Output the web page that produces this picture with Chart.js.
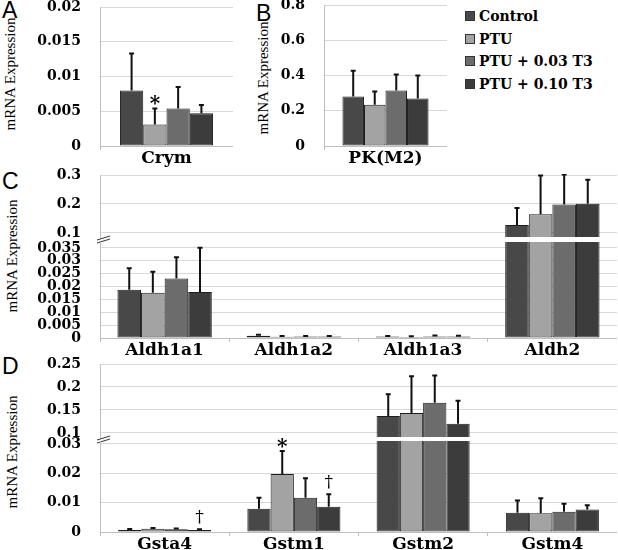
<!DOCTYPE html>
<html>
<head>
<meta charset="utf-8">
<script src="https://cdn.jsdelivr.net/npm/chart.js@4.4.1/dist/chart.umd.min.js"></script>
<style>
  body { margin: 0; width: 618px; height: 550px; overflow: hidden; background: #fff; position: relative; }
  canvas { position: absolute; }
  .letter { position: absolute; font-family: "Liberation Sans", Arial, sans-serif; font-size: 23px; line-height: 1; color: #000; }
  .ytitle { position: absolute; font-family: "Liberation Serif", "DejaVu Serif", Tinos, "Times New Roman", Times, serif; font-size: 15px; line-height: 1; white-space: nowrap; transform: translate(-50%, -50%) rotate(-90deg); }
  .leg { position: absolute; left: 465px; font-family: "DejaVu Serif", "Liberation Serif", Times, serif; font-weight: bold; font-size: 14px; line-height: 16px; white-space: nowrap; }
  .leg span { display: inline-block; width: 10px; height: 10px; box-sizing: border-box; border: 1px solid #333; margin-right: 4px; vertical-align: 0px; }
</style>
</head>
<body>
<div class="letter" style="left:2px;top:-1px">A</div>
<div class="letter" style="left:256px;top:2px">B</div>
<div class="letter" style="left:2px;top:170px">C</div>
<div class="letter" style="left:2px;top:355px">D</div>
<div class="ytitle" style="left:10px;top:74px">mRNA Expression</div>
<div class="ytitle" style="left:263px;top:78px">mRNA Expression</div>
<div class="ytitle" style="left:12px;top:256px">mRNA Expression</div>
<div class="ytitle" style="left:12px;top:452px">mRNA Expression</div>
<div id="legend"></div>

<canvas id="chartA"></canvas>
<canvas id="chartB"></canvas>
<canvas id="chartCTop"></canvas>
<canvas id="chartCBottom"></canvas>
<canvas id="chartDTop"></canvas>
<canvas id="chartDBottom"></canvas>

<script>
const seriesNames = ["Control", "PTU", "PTU + 0.03 T3", "PTU + 0.10 T3"];
const seriesColors = ["#484848", "#a3a3a3", "#6c6c6c", "#3c3c3c"];
const serif = "'DejaVu Serif', 'Liberation Serif', Times, serif";

// A - one value per series
const crymCats = ["Crym"];
const crymMean = [0.0080, 0.0031, 0.0054, 0.0047];
const crymErr = [0.0053, 0.0023, 0.0031, 0.0012];
const crymMarks = ["", "*", "", ""];
const crymTicks = [0, 0.005, 0.01, 0.015, 0.02];

// B
const pkCats = ["PK(M2)"];
const pkMean = [0.281, 0.234, 0.315, 0.27];
const pkErr = [0.146, 0.075, 0.09, 0.13];
const pkTicks = [0, 0.2, 0.4, 0.6, 0.8];

// C - per series, across categories
const aldhCats = ["Aldh1a1", "Aldh1a2", "Aldh1a3", "Aldh2"];
const aldhControl = [0.0187, 0.0009, 0.0006, 0.128];
const aldhPTU = [0.0176, 0.0005, 0.0004, 0.165];
const aldhLow = [0.0231, 0.0006, 0.0006, 0.198];
const aldhHigh = [0.0179, 0.0006, 0.0006, 0.201];
const aldhControlErr = [0.0084, 0.0004, 0.0002, 0.058];
const aldhPTUErr = [0.0081, 0.0003, 0.0003, 0.133];
const aldhLowErr = [0.0083, 0.0002, 0.0004, 0.104];
const aldhHighErr = [0.0172, 0.0002, 0.0003, 0.083];
const aldhTopTicks = [0.1, 0.2, 0.3];
const aldhBottomTicks = [0, 0.005, 0.01, 0.015, 0.02, 0.025, 0.03, 0.035];

// D
const gstCats = ["Gsta4", "Gstm1", "Gstm2", "Gstm4"];
const gstControl = [0.0007, 0.0079, 0.137, 0.0066];
const gstPTU = [0.0011, 0.0198, 0.1435, 0.0064];
const gstLow = [0.0009, 0.0117, 0.166, 0.0069];
const gstHigh = [0.0007, 0.0086, 0.120, 0.0077];
const gstControlErr = [0.0003, 0.0038, 0.047, 0.0041];
const gstPTUErr = [0.0003, 0.0078, 0.080, 0.0051];
const gstLowErr = [0.0003, 0.0066, 0.059, 0.0027];
const gstHighErr = [0.0002, 0.0043, 0.050, 0.0014];
const gstMarks = [["", "", "", ""], ["", "*", "", ""], ["", "", "", ""], ["\u2020", "\u2020", "", ""]];
const gstTopTicks = [0.1, 0.15, 0.2, 0.25];
const gstBottomTicks = [0, 0.01, 0.02, 0.03];

// legend
const legend = document.getElementById("legend");
seriesNames.forEach((name, i) => {
  const d = document.createElement("div");
  d.className = "leg";
  d.style.top = (8 + i * 22.6) + "px";
  d.innerHTML = '<span style="background:' + seriesColors[i] + '"></span>' + name;
  legend.appendChild(d);
});

const errorBars = {
  id: "errorBars",
  afterDatasetsDraw(chart) {
    const { ctx, chartArea: a } = chart;
    const y = chart.scales.y;
    ctx.save();
    ctx.beginPath();
    ctx.rect(a.left, a.top - 1, a.right - a.left, a.bottom - a.top + 1);
    ctx.clip();
    ctx.strokeStyle = "#111";
    ctx.lineWidth = 2;
    chart.data.datasets.forEach((ds, i) => {
      chart.getDatasetMeta(i).data.forEach((bar, j) => {
        const v = ds.data[j];
        if (v == null) return;
        const top = y.getPixelForValue(v + ds.errors[j]);
        ctx.beginPath();
        ctx.moveTo(bar.x, bar.y);
        ctx.lineTo(bar.x, top);
        ctx.moveTo(bar.x - 2.5, top);
        ctx.lineTo(bar.x + 2.5, top);
        ctx.stroke();
      });
    });
    ctx.restore();

    ctx.save();
    ctx.fillStyle = "#000";
    ctx.textAlign = "center";
    chart.data.datasets.forEach((ds, i) => {
      if (!ds.marks) return;
      chart.getDatasetMeta(i).data.forEach((bar, j) => {
        const m = ds.marks[j];
        if (!m || ds.data[j] == null) return;
        const top = y.getPixelForValue(ds.data[j] + ds.errors[j]);
        if (m === "*") {
          ctx.font = "bold 20px " + serif;
          ctx.fillText(m, bar.x, top + 2);
        } else {
          ctx.font = "17px " + serif;
          ctx.fillText(m, bar.x, top - 7);
        }
      });
    });
    ctx.restore();
  }
};

const axisBreak = {
  id: "axisBreak",
  afterDraw(chart) {
    if (!chart.options.plugins.axisBreak.show) return;
    const { ctx, chartArea: a } = chart;
    ctx.save();
    ctx.strokeStyle = "#444";
    ctx.lineWidth = 1.3;
    [0, 3].forEach(d => {
      ctx.beginPath();
      ctx.moveTo(a.left - 3, a.bottom + 3 + d);
      ctx.lineTo(a.left + 10, a.bottom - 1 + d);
      ctx.stroke();
    });
    ctx.restore();
  }
};

function noPad(s) {
  s.paddingTop = 0;
  s.paddingBottom = 0;
  s.paddingLeft = 0;
  s.paddingRight = 0;
}

function makeChart(id, box, cats, means, errs, marks, yMin, yMax, ticks, showX, catPct) {
  const padT = 12, padB = 12, xH = 26;
  const canvas = document.getElementById(id);
  const W = box.right - box.canvasLeft;
  const H = padT + (box.bottom - box.top) + (showX ? xH : padB);
  canvas.width = W;
  canvas.height = H;
  canvas.style.left = box.canvasLeft + "px";
  canvas.style.top = (box.top - padT) + "px";
  canvas.style.width = W + "px";
  canvas.style.height = H + "px";

  return new Chart(canvas.getContext("2d"), {
    type: "bar",
    data: {
      labels: cats,
      datasets: seriesNames.map((name, s) => ({
        label: name,
        data: means[s].map(v => (v >= yMin ? v : null)),
        errors: errs[s],
        marks: marks ? marks[s] : null,
        backgroundColor: seriesColors[s],
        borderColor: "#1e1e1e",
        borderWidth: 1,
        borderSkipped: false,
        barPercentage: 1,
        categoryPercentage: catPct,
        clip: 0
      }))
    },
    options: {
      responsive: false,
      animation: false,
      layout: { padding: { top: padT, bottom: showX ? 0 : padB, left: 0, right: 0 } },
      plugins: {
        legend: { display: false },
        tooltip: { enabled: false },
        axisBreak: { show: !showX }
      },
      scales: {
        x: {
          display: showX,
          afterFit: s => { noPad(s); s.height = showX ? xH : 0; },
          grid: { drawOnChartArea: false, tickLength: 4, color: "#bfbfbf", offset: true },
          border: { color: "#bfbfbf" },
          ticks: { padding: -2, color: "#000", font: { family: serif, weight: "bold", size: 17 } }
        },
        y: {
          min: yMin,
          max: yMax,
          afterBuildTicks: s => { s.ticks = ticks.map(v => ({ value: v })); },
          afterFit: s => { noPad(s); s.width = box.yW; },
          grid: { color: "#d9d9d9", drawTicks: false },
          border: { color: "#bfbfbf" },
          ticks: {
            padding: 19,
            autoSkip: false,
            color: "#000",
            font: { family: serif, weight: "bold", size: 14 },
            callback: v => String(v)
          }
        }
      }
    },
    plugins: [errorBars, axisBreak]
  });
}

const one = arr => arr.map(v => [v]);

makeChart("chartA", { canvasLeft: 0, yW: 100, top: 7, bottom: 146, right: 233 },
  crymCats, one(crymMean), one(crymErr), one(crymMarks), 0, 0.02, crymTicks, true, 0.7);

makeChart("chartB", { canvasLeft: 240, yW: 84, top: 5, bottom: 146, right: 447 },
  pkCats, one(pkMean), one(pkErr), null, 0, 0.8, pkTicks, true, 0.7);

const aldhMeans = [aldhControl, aldhPTU, aldhLow, aldhHigh];
const aldhErrs = [aldhControlErr, aldhPTUErr, aldhLowErr, aldhHighErr];
makeChart("chartCTop", { canvasLeft: 0, yW: 100, top: 175, bottom: 237, right: 617 },
  aldhCats, aldhMeans, aldhErrs, null, 0.0862, 0.3, aldhTopTicks, false, 0.73);
makeChart("chartCBottom", { canvasLeft: 0, yW: 100, top: 242, bottom: 338, right: 617 },
  aldhCats, aldhMeans, aldhErrs, null, 0, 0.0373, aldhBottomTicks, true, 0.73);

const gstMeans = [gstControl, gstPTU, gstLow, gstHigh];
const gstErrs = [gstControlErr, gstPTUErr, gstLowErr, gstHighErr];
makeChart("chartDTop", { canvasLeft: 0, yW: 100, top: 364, bottom: 437, right: 617 },
  gstCats, gstMeans, gstErrs, gstMarks, 0.0913, 0.25, gstTopTicks, false, 0.72);
makeChart("chartDBottom", { canvasLeft: 0, yW: 100, top: 441, bottom: 532, right: 617 },
  gstCats, gstMeans, gstErrs, gstMarks, 0, 0.031, gstBottomTicks, true, 0.72);
</script>
</body>
</html>
